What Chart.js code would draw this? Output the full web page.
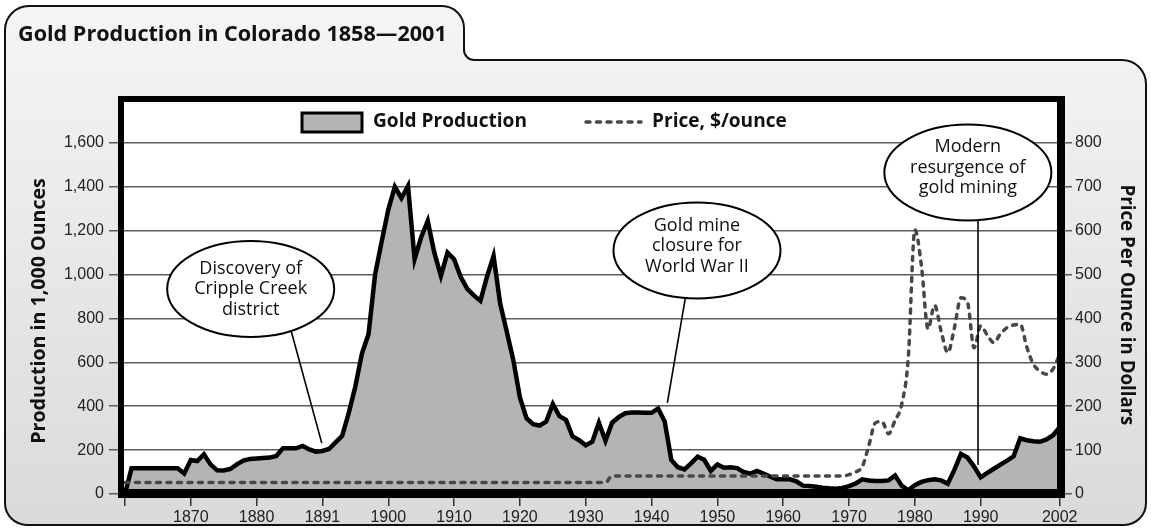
<!DOCTYPE html>
<html>
<head>
<meta charset="utf-8">
<script src="https://cdn.jsdelivr.net/npm/chart.js@4.4.1/dist/chart.umd.min.js"></script>
<style>
  html, body { margin: 0; padding: 0; background: #fff; }
  canvas { display: block; }
</style>
</head>
<body>
<canvas id="chart" width="1151" height="529"></canvas>
<script>
// years on the x axis, one value per year
const years = [
  1860, 1861, 1862, 1863, 1864, 1865, 1866, 1867, 1868, 1869,
  1870, 1871, 1872, 1873, 1874, 1875, 1876, 1877, 1878, 1879,
  1880, 1881, 1882, 1883, 1884, 1885, 1886, 1887, 1888, 1889,
  1890, 1891, 1892, 1893, 1894, 1895, 1896, 1897, 1898, 1899,
  1900, 1901, 1902, 1903, 1904, 1905, 1906, 1907, 1908, 1909,
  1910, 1911, 1912, 1913, 1914, 1915, 1916, 1917, 1918, 1919,
  1920, 1921, 1922, 1923, 1924, 1925, 1926, 1927, 1928, 1929,
  1930, 1931, 1932, 1933, 1934, 1935, 1936, 1937, 1938, 1939,
  1940, 1941, 1942, 1943, 1944, 1945, 1946, 1947, 1948, 1949,
  1950, 1951, 1952, 1953, 1954, 1955, 1956, 1957, 1958, 1959,
  1960, 1961, 1962, 1963, 1964, 1965, 1966, 1967, 1968, 1969,
  1970, 1971, 1972, 1973, 1974, 1975, 1976, 1977, 1978, 1979,
  1980, 1981, 1982, 1983, 1984, 1985, 1986, 1987, 1988, 1989,
  1990, 1991, 1992, 1993, 1994, 1995, 1996, 1997, 1998, 1999,
  2000, 2001, 2002
];

// production, thousands of ounces
const production = [
  0, 117, 117, 117, 117, 117, 117, 117, 117, 93,
  155, 150, 181, 135, 108, 107, 114, 135, 152, 160,
  162, 164, 166, 173, 208, 208, 208, 219, 203, 193,
  196, 205, 235, 265, 370, 490, 640, 728, 1000, 1150,
  1295, 1400, 1348, 1404, 1070, 1170, 1244, 1100, 994, 1100,
  1070, 990, 935, 905, 880, 990, 1085, 868, 740, 610,
  440, 345, 318, 312, 330, 410, 355, 338, 262, 245,
  222, 238, 325, 243, 325, 350, 368, 371, 371, 370,
  370, 390, 330, 155, 122, 112, 140, 170, 156, 105,
  135, 120, 122, 118, 100, 93, 105, 93, 80, 67,
  67, 67, 58, 38, 36, 33, 29, 26, 24, 28,
  36, 48, 67, 62, 59, 59, 62, 84, 38, 17,
  40, 55, 63, 67, 62, 47, 110, 183, 166, 125,
  76, 96, 115, 134, 152, 172, 254, 245, 240, 238,
  249, 268, 305
];

// price, dollars per ounce
const price = [
  26, 26, 26, 26, 26, 26, 26, 26, 26, 26,
  26, 26, 26, 26, 26, 26, 26, 26, 26, 26,
  26, 26, 26, 26, 26, 26, 26, 26, 26, 26,
  26, 26, 26, 26, 26, 26, 26, 26, 26, 26,
  26, 26, 26, 26, 26, 26, 26, 26, 26, 26,
  26, 26, 26, 26, 26, 26, 26, 26, 26, 26,
  26, 26, 26, 26, 26, 26, 26, 26, 26, 26,
  26, 26, 26, 26, 41, 41, 41, 41, 41, 41,
  41, 41, 41, 41, 41, 41, 41, 41, 41, 41,
  41, 41, 41, 41, 41, 41, 41, 41, 41, 41,
  41, 41, 41, 41, 41, 41, 41, 41, 41, 41,
  44, 50, 62, 110, 162, 165, 137, 168, 204, 311,
  602, 520, 376, 430, 370, 322, 378, 447, 436, 333,
  383, 362, 345, 365, 379, 385, 387, 335, 296, 280,
  273, 285, 318
];

// axis ticks
const xTickYears = [1860, 1870, 1880, 1890, 1900, 1910, 1920, 1930, 1940, 1950, 1960, 1970, 1980, 1990, 2002];
const xTickLabels = ['', '1870', '1880', '1891', '1900', '1910', '1920', '1930', '1940', '1950', '1960', '1970', '1980', '1990', '2002'];
const prodTicks = [0, 200, 400, 600, 800, 1000, 1200, 1400, 1600];
const priceTicks = [0, 100, 200, 300, 400, 500, 600, 700, 800];

// callouts: ellipse centre and pointer tip in data units (year, production)
const callouts = [
  { lines: ['Discovery of', 'Cripple Creek', 'district'], at: [1879.1, 934], tip: [1889.9, 232], angle: 61, dy: 0 },
  { lines: ['Gold mine', 'closure for', 'World War II'], at: [1946.9, 1110], tip: [1942.4, 415], angle: 98, dy: -4.5 },
  { lines: ['Modern', 'resurgence of', 'gold mining'], at: [1988.05, 1465], tip: [1989.6, 132], angle: 83, dy: -5 }
];

const titleText = 'Gold Production in Colorado 1858\u20142001';
const leftTitle = 'Production in 1,000 Ounces';
const rightTitle = 'Price Per Ounce in Dollars';

const FUT = '"Open Sans", Lato, sans-serif';
const TICKFONT = '"Liberation Sans", Arial, sans-serif';

// pick a font size so that a text spans the width it has in the picture
function fitFont(ctx, weight, text, width) {
  ctx.font = weight + ' 20px ' + FUT;
  const size = 20 * width / ctx.measureText(text).width;
  return weight + ' ' + size.toFixed(2) + 'px ' + FUT;
}

const backdrop = {
  id: 'backdrop',
  beforeDraw(chart) {
    const ctx = chart.ctx;
    const a = chart.chartArea;
    ctx.save();
    ctx.fillStyle = '#fff';
    ctx.fillRect(0, 0, chart.width, chart.height);

    // panel with title tab
    ctx.beginPath();
    ctx.moveTo(5, 40);
    ctx.arcTo(5, 6, 40, 6, 24);
    ctx.arcTo(464, 6, 464, 40, 22);
    ctx.lineTo(464, 50);
    ctx.arcTo(464, 60, 480, 60, 10);
    ctx.arcTo(1146, 60, 1146, 100, 24);
    ctx.arcTo(1146, 525, 1100, 525, 22);
    ctx.arcTo(5, 525, 5, 480, 22);
    ctx.closePath();
    const g = ctx.createLinearGradient(0, 6, 0, 525);
    g.addColorStop(0, '#f5f5f6');
    g.addColorStop(1, '#d9dadc');
    ctx.fillStyle = g;
    ctx.fill();
    ctx.lineWidth = 2;
    ctx.strokeStyle = '#111';
    ctx.stroke();

    ctx.fillStyle = '#111';
    ctx.font = fitFont(ctx, 'bold', titleText, 429);
    ctx.textBaseline = 'middle';
    ctx.textAlign = 'left';
    ctx.fillText(titleText, 18, 35);

    // axis titles
    ctx.textAlign = 'center';
    ctx.save();
    ctx.font = fitFont(ctx, 'bold', leftTitle, 266);
    ctx.translate(39, 311);
    ctx.rotate(-Math.PI / 2);
    ctx.fillText(leftTitle, 0, 0);
    ctx.restore();
    ctx.save();
    ctx.font = fitFont(ctx, 'bold', rightTitle, 241);
    ctx.translate(1126, 305);
    ctx.rotate(Math.PI / 2);
    ctx.fillText(rightTitle, 0, 0);
    ctx.restore();

    ctx.fillStyle = '#fff';
    ctx.fillRect(a.left, a.top, a.right - a.left, a.bottom - a.top);
    ctx.restore();
  },
  afterDatasetsDraw(chart) {
    const ctx = chart.ctx;
    const a = chart.chartArea;
    const xs = chart.scales.x, ys = chart.scales.y;
    ctx.save();

    // heavy plot border
    ctx.fillStyle = '#000';
    ctx.fillRect(a.left - 3, a.top - 3, a.right - a.left + 7, 6);
    ctx.fillRect(a.left - 3, a.bottom - 5, a.right - a.left + 7, 9);
    ctx.fillRect(a.left - 3, a.top - 3, 6, a.bottom - a.top + 7);
    ctx.fillRect(a.right - 4, a.top - 3, 8, a.bottom - a.top + 7);

    // callouts
    const calloutFont = fitFont(ctx, 'normal', 'Cripple Creek', 113);
    callouts.forEach(c => {
      const cx = xs.getPixelForValue(c.at[0]);
      const cy = ys.getPixelForValue(c.at[1]);
      const tx = xs.getPixelForValue(c.tip[0]);
      const ty = ys.getPixelForValue(c.tip[1]);
      const rx = 83.5, ry = 48;
      const t = c.angle * Math.PI / 180;
      ctx.beginPath();
      ctx.moveTo(cx + rx * Math.cos(t), cy + ry * Math.sin(t));
      ctx.lineTo(tx, ty);
      ctx.lineWidth = 1.6;
      ctx.strokeStyle = '#000';
      ctx.stroke();
      ctx.beginPath();
      ctx.ellipse(cx, cy, rx, ry, 0, 0, Math.PI * 2);
      ctx.fillStyle = '#fff';
      ctx.fill();
      ctx.lineWidth = 2;
      ctx.stroke();
      ctx.fillStyle = '#111';
      ctx.font = calloutFont;
      ctx.textAlign = 'center';
      ctx.textBaseline = 'middle';
      c.lines.forEach((s, i) => ctx.fillText(s, cx, cy + c.dy + (i - 1) * 20.5));
    });

    // legend inside the plot
    const ds = chart.data.datasets;
    const ly = 122;
    ctx.fillStyle = ds[1].backgroundColor;
    ctx.fillRect(302, 113, 60, 19);
    ctx.lineWidth = 3;
    ctx.strokeStyle = '#000';
    ctx.strokeRect(302, 113, 60, 19);
    ctx.fillStyle = '#111';
    ctx.font = fitFont(ctx, 'bold', ds[1].label, 154);
    ctx.textAlign = 'left';
    ctx.textBaseline = 'middle';
    ctx.fillText(ds[1].label, 373, ly);
    ctx.beginPath();
    ctx.setLineDash(ds[0].borderDash);
    ctx.lineCap = 'round';
    ctx.moveTo(586, ly);
    ctx.lineTo(641, ly);
    ctx.lineWidth = 3.5;
    ctx.strokeStyle = ds[0].borderColor;
    ctx.stroke();
    ctx.setLineDash([]);
    ctx.fillText(ds[0].label, 652, ly);
    ctx.restore();
  }
};

const toPoints = vals => vals.map((v, i) => ({ x: years[i], y: v }));

new Chart(document.getElementById('chart').getContext('2d'), {
  type: 'line',
  data: {
    datasets: [
      {
        label: 'Price, $/ounce',
        data: toPoints(price),
        yAxisID: 'y2',
        borderColor: '#474747',
        borderWidth: 3.5,
        borderDash: [4, 6.5],
        borderCapStyle: 'round',
        cubicInterpolationMode: 'monotone',
        fill: false,
        pointRadius: 0,
        order: 0
      },
      {
        label: 'Gold Production',
        data: toPoints(production),
        yAxisID: 'y',
        borderColor: '#000',
        backgroundColor: '#b4b4b4',
        borderWidth: 4.5,
        borderJoinStyle: 'miter',
        tension: 0,
        fill: 'origin',
        pointRadius: 0,
        order: 1
      }
    ]
  },
  options: {
    responsive: false,
    animation: false,
    devicePixelRatio: 1,
    layout: { padding: { top: 99, left: 0, right: 0, bottom: 0 } },
    plugins: { legend: { display: false }, tooltip: { enabled: false }, title: { display: false } },
    scales: {
      x: {
        type: 'linear',
        min: 1859.4,
        max: 2002.2,
        afterBuildTicks: s => { s.ticks = xTickYears.map(v => ({ value: v })); },
        afterFit: s => { s.height = 35; },
        border: { display: false },
        grid: { drawOnChartArea: false, tickLength: 12, color: '#333', lineWidth: 1.5 },
        ticks: {
          autoSkip: false, maxRotation: 0, padding: 2,
          font: { family: TICKFONT, size: 16 }, color: '#222',
          callback: (v, i) => xTickLabels[i]
        }
      },
      y: {
        position: 'left',
        min: 0,
        max: 1800,
        afterBuildTicks: s => { s.ticks = prodTicks.map(v => ({ value: v })); },
        afterFit: s => { s.width = 121; },
        border: { display: false },
        grid: { color: '#5c5c5c', lineWidth: 1.5, tickLength: 12 },
        ticks: {
          padding: 5, font: { family: TICKFONT, size: 16 }, color: '#222',
          callback: v => v.toLocaleString('en-US')
        }
      },
      y2: {
        position: 'right',
        min: 0,
        max: 900,
        afterBuildTicks: s => { s.ticks = priceTicks.map(v => ({ value: v })); },
        afterFit: s => { s.width = 90; },
        border: { display: false },
        grid: { drawOnChartArea: false, color: '#5c5c5c', lineWidth: 1.5, tickLength: 11 },
        ticks: { padding: 3, font: { family: TICKFONT, size: 16 }, color: '#222' }
      }
    }
  },
  plugins: [backdrop]
});
</script>
</body>
</html>
